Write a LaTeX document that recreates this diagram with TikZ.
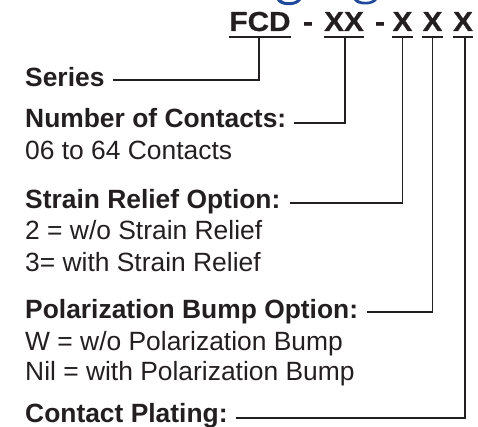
\documentclass[tikz,border=0pt]{standalone}
\usepackage{fontspec}
\setmainfont{Liberation Sans}
\newfontfamily\hdrfont[FakeStretch=1.08,FakeBold=0.6]{Liberation Sans Bold}
\definecolor{ink}{HTML}{231F20}
\definecolor{titleblue}{HTML}{1F4A9C}
\begin{document}
\begin{tikzpicture}[x=1pt,y=-1pt,
  lbl/.style={anchor=base west,inner sep=0pt,text=ink,font=\fontsize{26.4}{30}\selectfont\bfseries},
  txt/.style={anchor=base west,inner sep=0pt,text=ink,font=\fontsize{26.4}{30}\selectfont},
  hdr/.style={anchor=base,inner sep=0pt,text=ink,font=\fontsize{27.5}{30}\selectfont\hdrfont},
  conn/.style={draw=ink,line width=1.8pt},
  uline/.style={draw=ink,line width=2pt}]
\useasboundingbox (0,0) rectangle (478,427);
% cropped title fragments
\fill[titleblue] (277,0) .. controls (280,7) and (297,7) .. (301,0) -- (297,0) .. controls (294,3) and (284,3) .. (281,0) -- cycle;
\fill[titleblue] (354,0) .. controls (357,6) and (373,6) .. (377,0) -- (373,0) .. controls (370,2.5) and (361,2.5) .. (358,0) -- cycle;
% header
\node[hdr] (fcd) at (260,31) {FCD};
\node[hdr] (d1) at (308,31) {-};
\node[hdr] (xx) at (344,31) {XX};
\node[hdr] (d2) at (380,31) {-};
\node[hdr] (x1) at (402.5,31) {X};
\node[hdr] (x2) at (432.5,31) {X};
\node[hdr] (x3) at (463,31) {X};
\foreach \n in {fcd,xx,x1,x2,x3}{
  \draw[uline] ([yshift=-6pt]\n.base west) -- ([yshift=-6pt]\n.base east);
  \coordinate (\n-u) at ([yshift=-6pt]\n.base);
}
% labels
\node[lbl] (series) at (25,87) {Series};
\node[lbl] (contacts) at (25,128) {Number of Contacts:};
\node[txt] (ctxt) at (25,160) {06 to 64 Contacts};
\node[lbl] (strain) at (25,209) {Strain Relief Option:};
\node[txt] (s2) at (25,240) {2 = w/o Strain Relief};
\node[txt] (s3) at (25,271) {3= with Strain Relief};
\node[lbl] (polar) at (25,318) {Polarization Bump Option:};
\node[txt] (pw) at (25,350) {W = w/o Polarization Bump};
\node[txt] (pn) at (25,380) {Nil = with Polarization Bump};
\node[lbl] (plating) at (25,422) {Contact Plating:};
% connectors
\draw[conn] ([xshift=8pt,yshift=7pt]series.base east) -| ([xshift=-1pt]fcd-u);
\draw[conn] ([xshift=8pt,yshift=5pt]contacts.base east) -| ([xshift=1pt]xx-u);
\draw[conn] ([xshift=9pt,yshift=6pt]strain.base east) -| (x1-u);
\draw[conn] ([xshift=9pt,yshift=6pt]polar.base east) -| (x2-u);
\draw[conn] ([xshift=8pt,yshift=4pt]plating.base east) -| ([xshift=2pt]x3-u);
\end{tikzpicture}
\end{document}
